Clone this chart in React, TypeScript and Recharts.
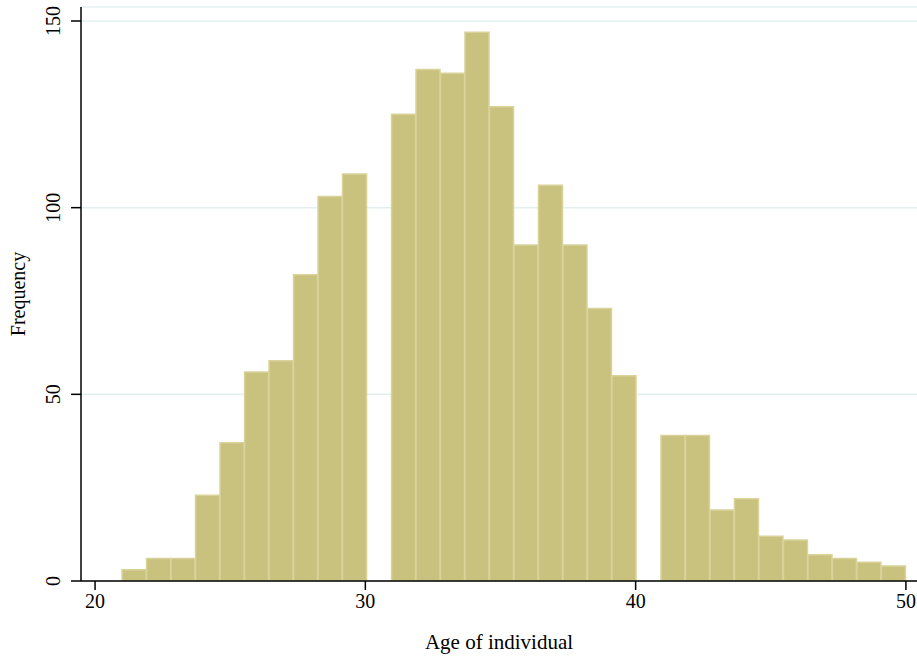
import React from 'react';
import { BarChart, Bar, XAxis, YAxis, CartesianGrid } from 'recharts';

// Histogram of age: 32 bins from 21 to 50
const binStart = 21;
const binEnd = 50;
const binCount = 32;
const frequencies = [
  3, 6, 6, 23, 37, 56, 59, 82, 103, 109,
  0, 125, 137, 136, 147, 127, 90, 106, 90, 73,
  55, 0, 39, 39, 19, 22, 12, 11, 7, 6,
  5, 4,
];
const xTicks = [20, 30, 40, 50];
const yTicks = [0, 50, 100, 150];

const binWidth = (binEnd - binStart) / binCount;
const data = frequencies.map((freq, i) => ({
  mid: binStart + (i + 0.5) * binWidth,
  freq,
}));

const FONT = '"Liberation Serif", "DejaVu Serif", serif';

const YTick = (props: any) => {
  const { x, y, payload } = props;
  return (
    <text
      x={x - 9}
      y={y}
      transform={`rotate(-90, ${x - 9}, ${y})`}
      textAnchor="middle"
      fontFamily={FONT}
      fontSize={20}
      fill="#000"
    >
      {payload.value}
    </text>
  );
};

export default function App() {
  return (
    <div style={{ position: 'absolute', left: 0, top: 0, background: '#fff' }}>
      <BarChart
        width={917}
        height={659}
        data={data}
        margin={{ top: 7, right: 0, left: 0, bottom: 0 }}
        barCategoryGap={0}
        barGap={0}
      >
        <CartesianGrid vertical={false} stroke="#E4EFF1" strokeWidth={1.5} />
        <XAxis
          dataKey="mid"
          type="number"
          domain={[19.48, 50.41]}
          allowDataOverflow
          ticks={xTicks}
          interval={0}
          height={78}
          tickSize={9}
          tickMargin={4}
          stroke="#000"
          strokeWidth={1.5}
          tick={{ fontFamily: FONT, fontSize: 20, fill: '#000' }}
          label={{
            value: 'Age of individual',
            position: 'insideBottom',
            offset: 10,
            style: { fontFamily: FONT, fontSize: 21, fill: '#000' },
          }}
        />
        <YAxis
          type="number"
          domain={[0, 153.75]}
          allowDataOverflow
          ticks={yTicks}
          interval={0}
          width={81}
          tickSize={10}
          tickMargin={2}
          stroke="#000"
          strokeWidth={1.5}
          tick={<YTick />}
          label={{
            value: 'Frequency',
            angle: -90,
            position: 'insideLeft',
            offset: 18,
            style: { textAnchor: 'middle', fontFamily: FONT, fontSize: 20, fill: '#000' },
          }}
        />
        <Bar
          dataKey="freq"
          fill="#C9C17E"
          stroke="#D9D39A"
          strokeWidth={1.5}
          isAnimationActive={false}
        />
      </BarChart>
    </div>
  );
}
